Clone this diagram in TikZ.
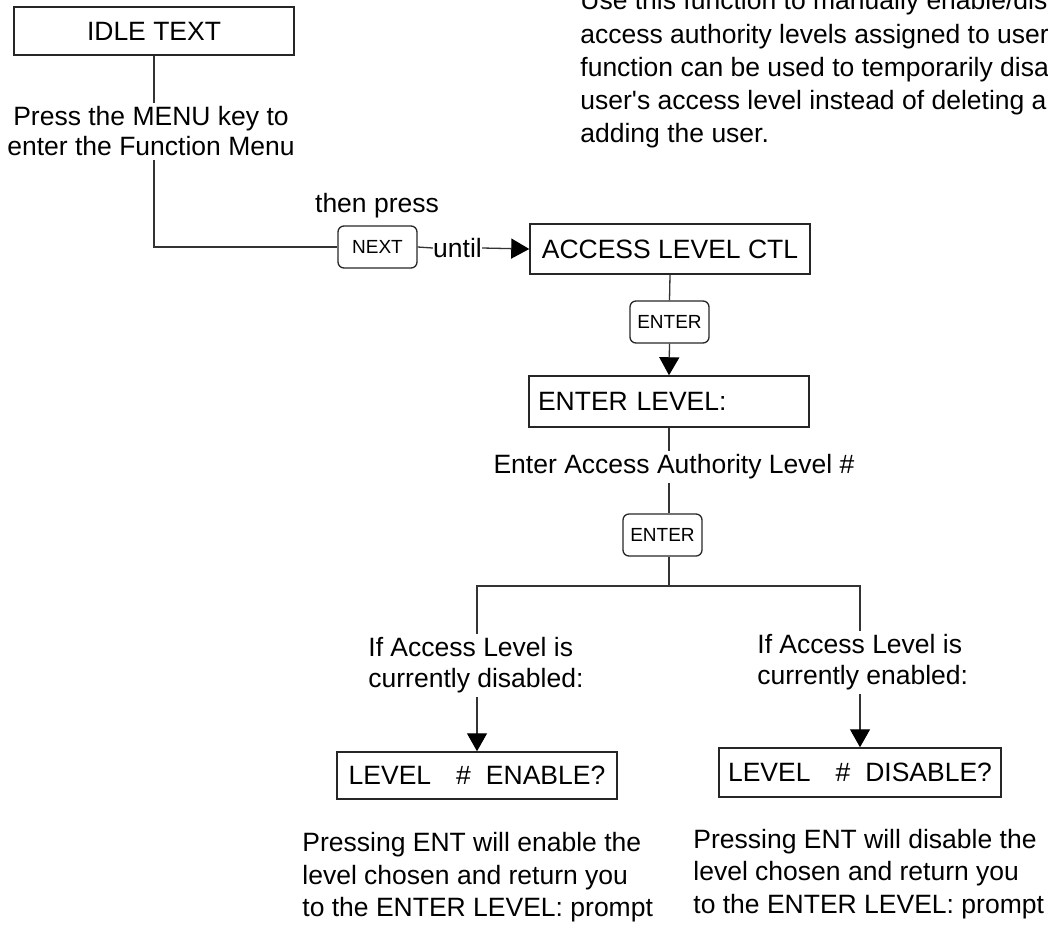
\documentclass[tikz,border=0pt]{standalone}
\usepackage{fontspec}
\setmainfont{Liberation Sans}
\usetikzlibrary{arrows.meta}

\begin{document}
\begin{tikzpicture}[x=0.5pt,y=-0.5pt,
        font=\fontsize{13.25pt}{16pt}\selectfont,
        screen/.style={draw=black!85, line width=0.75pt, minimum width=140pt, inner sep=0pt},
        keybox/.style={draw=black!85, line width=0.65pt, rounded corners=3pt, minimum width=39.5pt, minimum height=21pt, inner sep=0pt, font=\fontsize{9.5pt}{11pt}\selectfont},
        note/.style={fill=white, inner xsep=2pt, inner ysep=2pt},
        flow/.style={draw=black!80, line width=0.65pt},
        tip/.style={-{Triangle[length=9pt,width=10pt,color=black]}}]
        \useasboundingbox (0,0) rectangle (1048,927);
        \clip (0,0) rectangle (1048,927);

        % Display screens and keys
        \node[screen, minimum height=24pt] (idle) at (154,31) {IDLE TEXT};
        \node[keybox] (next) at (377.5,247) {NEXT};
        \node[inner sep=0pt] (until) at (457.5,248) {until};
        \node[screen, minimum height=25pt] (ctl) at (670,249) {ACCESS LEVEL CTL};
        \node[keybox] (enter1) at (669.5,322) {ENTER};
        \node[screen, minimum height=25.5pt, text width=131pt, align=left, inner xsep=4.5pt] (level) at (669,401.5) {ENTER LEVEL:};
        \node[keybox] (enter2) at (662.5,535) {ENTER};
        \coordinate (split) at (669,586);
        \node[screen, minimum height=23.5pt] (enable) at (477,775.5) {LEVEL\hspace{12.5pt}\#\hspace{7.5pt}ENABLE?};
        \node[screen, minimum width=141pt, minimum height=24.5pt] (disable) at (860,772.5) {LEVEL\hspace{12.5pt}\#\hspace{7.5pt}DISABLE?};

        % Connectors
        \draw[flow] (idle.south) |- (next.west);
        \draw[flow] (next.east) -- (until.west);
        \draw[flow, tip] (until.east) -- (ctl.west);
        \draw[flow] (ctl.south) -- (enter1.north);
        \draw[flow, tip] (enter1.south) -- (level.north);
        \draw[flow] (level.south) -- (level.south |- enter2.north);
        \draw[flow] (enter2.south -| split) -- (split);
        \draw[flow, tip] (split) -| (enable.north);
        \draw[flow, tip] (split) -| (disable.north);

        % Labels on the lines
        \node[note, align=center, font=\fontsize{13.25pt}{15pt}\selectfont] (menu) at (151,131.5) {Press the MENU key to\\enter the Function Menu};
        \node[inner sep=0pt] (press) at (377,206) {then press};
        \node[note] (levelno) at (674,467) {Enter Access Authority Level \#};
        \node[note, align=left, anchor=west, font=\fontsize{13.25pt}{15.5pt}\selectfont] (offcase) at (364,665.6) {If Access Level is\\currently disabled:};
        \node[note, align=left, anchor=west, font=\fontsize{13.25pt}{15.5pt}\selectfont] (oncase) at (753,662.6) {If Access Level is\\currently enabled:};

        % Notes
        \node[align=left, anchor=west, inner sep=0pt, font=\fontsize{13.25pt}{16.25pt}\selectfont] (enablenote) at (302,877.6) {Pressing ENT will enable the\\level chosen and return you\\to the ENTER LEVEL: prompt};
        \node[align=left, anchor=west, inner sep=0pt, font=\fontsize{13.25pt}{16.25pt}\selectfont] (disablenote) at (693,874) {Pressing ENT will disable the\\level chosen and return you\\to the ENTER LEVEL: prompt};
        \node[align=left, anchor=west, inner sep=0pt, font=\fontsize{13.25pt}{16.65pt}\selectfont] (about) at (580,69.5) {Use this function to manually enable/dis\\access authority levels assigned to user\\function can be used to temporarily disa\\user\textquotesingle s access level instead of deleting a\\adding the user.};

    \end{tikzpicture}
\end{document}
